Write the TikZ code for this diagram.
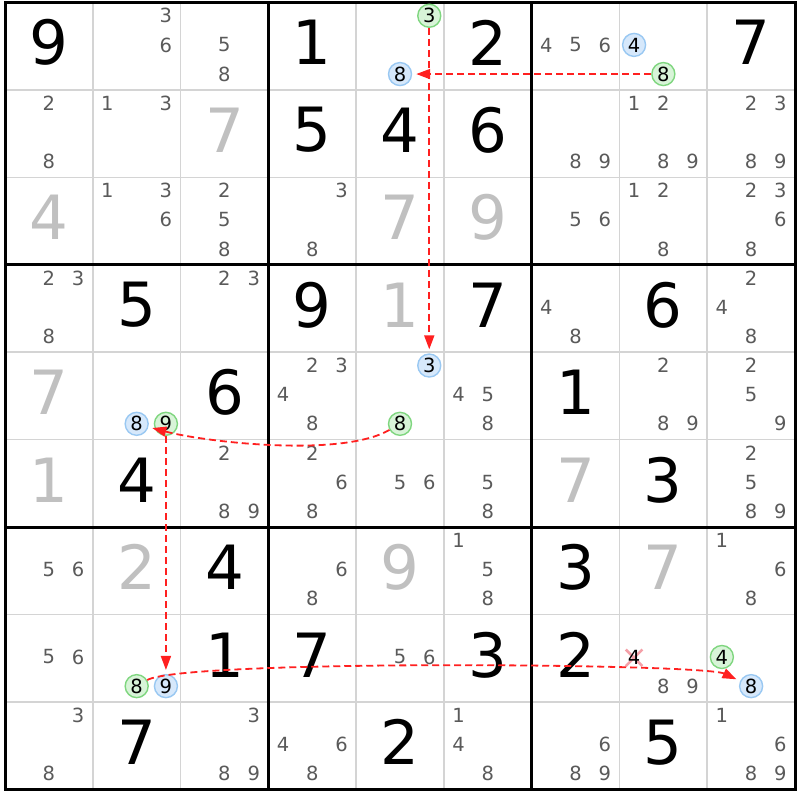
\documentclass[tikz,border=0pt]{standalone}
\usepackage{fontspec}
\setmainfont{DejaVu Sans}
\usetikzlibrary{arrows.meta,shapes.misc}

\definecolor{candgray}{HTML}{5A5A5A}
\definecolor{solvgray}{HTML}{C0C0C0}
\definecolor{gridgray}{HTML}{D4D4D4}
\definecolor{ongreen}{HTML}{7FD67F}
\definecolor{ongreenfill}{HTML}{D8F4D8}
\definecolor{offblue}{HTML}{99C8F2}
\definecolor{offbluefill}{HTML}{D6E8FB}
\definecolor{linkred}{HTML}{FF2020}
\definecolor{crossred}{HTML}{F4A0A8}

\def\cw{87.78}
\def\ch{87.44}
% candidates of a cell, placed on its 3x3 sub-grid
\newcommand\cands[3][cand]{\foreach \d in {#3}
  \node[#1] (#2-\d) at ([shift={({(mod(\d-1,3)-1)*\cw/3},{(1-floor((\d-1)/3))*\ch/3+1.3})}]#2) {\d};}
\newcommand\given[2]{\node[given] (#1-v) at ([yshift=3.5]#1) {#2};}
\newcommand\solved[2]{\node[solved] (#1-v) at ([yshift=3.5]#1) {#2};}

\begin{document}
\begin{tikzpicture}[x=1pt,y=1pt,
    cand/.style={inner sep=0pt, text=candgray, font=\fontsize{19.5}{19.5}\selectfont},
    gonecand/.style={cand, text=black},
    oncand/.style={cand, text=black, circle, draw=ongreen, fill=ongreenfill, line width=1.4pt, minimum size=23pt},
    offcand/.style={cand, text=black, circle, draw=offblue, fill=offbluefill, line width=1.4pt, minimum size=23pt},
    given/.style={inner sep=0pt, font=\fontsize{61}{61}\selectfont},
    solved/.style={given, text=solvgray},
    link/.style={linkred, line width=1.8pt, dash pattern=on 7pt off 4pt,
      -{Triangle[length=14pt,width=10pt]}, shorten >=4pt}]

  \useasboundingbox (0,0) rectangle (800,800);
  \fill[white] (0,0) rectangle (800,800);

  % grid
  \foreach \i in {1,...,8} {
    \draw[gridgray, line width=1.6pt] ({5+\i*\cw},797.5) -- ++(0,{-9*\ch});
    \draw[gridgray, line width=1.6pt] (5,{797.5-\i*\ch}) -- ++({9*\cw},0);
  }
  \foreach \i in {3,6} {
    \draw[line width=3pt] ({5+\i*\cw},797.5) -- ++(0,{-9*\ch});
    \draw[line width=3pt] (5,{797.5-\i*\ch}) -- ++({9*\cw},0);
  }
  \draw[line width=3pt] (5,797.5) rectangle ++({9*\cw},{-9*\ch});

  \foreach \r in {1,...,9}
    \foreach \c in {1,...,9}
      \coordinate (c\r\c) at ({5+(\c-0.5)*\cw},{797.5-(\r-0.5)*\ch});

  % row 1
  \given{c11}{9} \cands{c12}{3,6} \cands{c13}{5,8} \given{c14}{1}
  \cands[oncand]{c15}{3} \cands[offcand]{c15}{8} \given{c16}{2}
  \cands{c17}{4,5,6} \cands[offcand]{c18}{4} \cands[oncand]{c18}{8} \given{c19}{7}
  % row 2
  \cands{c21}{2,8} \cands{c22}{1,3} \solved{c23}{7} \given{c24}{5} \given{c25}{4}
  \given{c26}{6} \cands{c27}{8,9} \cands{c28}{1,2,8,9} \cands{c29}{2,3,8,9}
  % row 3
  \solved{c31}{4} \cands{c32}{1,3,6} \cands{c33}{2,5,8} \cands{c34}{3,8} \solved{c35}{7}
  \solved{c36}{9} \cands{c37}{5,6} \cands{c38}{1,2,8} \cands{c39}{2,3,6,8}
  % row 4
  \cands{c41}{2,3,8} \given{c42}{5} \cands{c43}{2,3} \given{c44}{9} \solved{c45}{1}
  \given{c46}{7} \cands{c47}{4,8} \given{c48}{6} \cands{c49}{2,4,8}
  % row 5
  \solved{c51}{7} \cands[offcand]{c52}{8} \cands[oncand]{c52}{9} \given{c53}{6}
  \cands{c54}{2,3,4,8} \cands[offcand]{c55}{3} \cands[oncand]{c55}{8}
  \cands{c56}{4,5,8} \given{c57}{1} \cands{c58}{2,8,9} \cands{c59}{2,5,9}
  % row 6
  \solved{c61}{1} \given{c62}{4} \cands{c63}{2,8,9} \cands{c64}{2,6,8} \cands{c65}{5,6}
  \cands{c66}{5,8} \solved{c67}{7} \given{c68}{3} \cands{c69}{2,5,8,9}
  % row 7
  \cands{c71}{5,6} \solved{c72}{2} \given{c73}{4} \cands{c74}{6,8} \solved{c75}{9}
  \cands{c76}{1,5,8} \given{c77}{3} \solved{c78}{7} \cands{c79}{1,6,8}
  % row 8
  \cands{c81}{5,6} \cands[oncand]{c82}{8} \cands[offcand]{c82}{9} \given{c83}{1}
  \given{c84}{7} \cands{c85}{5,6} \given{c86}{3} \given{c87}{2}
  \node[cross out, draw=crossred, line width=2.6pt, minimum size=14pt, inner sep=0pt]
    (x88) at ([shift={({-\cw/3},0.5)}]c88) {};
  \cands[gonecand]{c88}{4} \cands{c88}{8,9}
  \cands[oncand]{c89}{4} \cands[offcand]{c89}{8}
  % row 9
  \cands{c91}{3,8} \given{c92}{7} \cands{c93}{3,8,9} \cands{c94}{4,6,8} \given{c95}{2}
  \cands{c96}{1,4,8} \cands{c97}{6,8,9} \given{c98}{5} \cands{c99}{1,6,8,9}

  % chain
  \draw[link] (c18-8) -- (c15-8);
  \draw[link] (c15-3) -- (c55-3);
  \draw[link] (c55-8) to[out=210,in=-15,looseness=0.6] (c52-8);
  \draw[link] (c52-9) -- (c82-9);
  \draw[link] (c82-8) to[out=30,in=155,looseness=0.18] (c89-8);
\end{tikzpicture}
\end{document}
